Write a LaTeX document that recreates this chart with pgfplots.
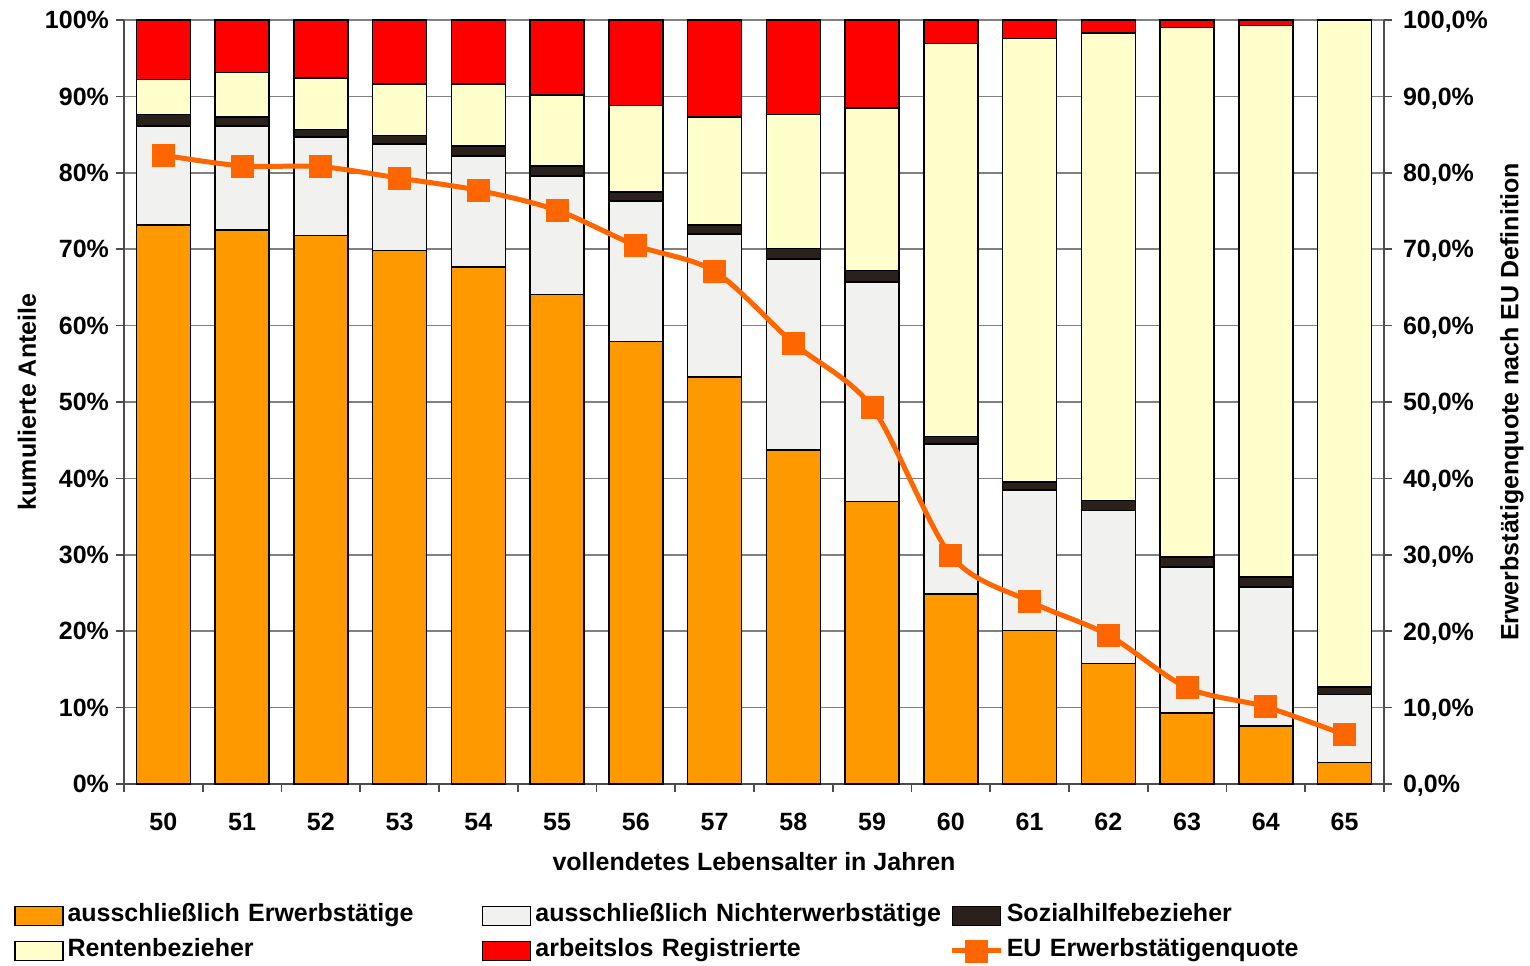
\documentclass[border=0pt]{standalone}
\usepackage{pgfplots}
\pgfplotsset{compat=1.18}
\usepackage{fontspec}
\setmainfont{Liberation Sans}
\definecolor{cOr}{HTML}{FF9900}
\definecolor{cGr}{HTML}{F1F2EF}
\definecolor{cDk}{HTML}{2B211C}
\definecolor{cYe}{HTML}{FFFFCC}
\definecolor{cRd}{HTML}{FF0000}
\definecolor{cLn}{HTML}{FF6600}
\newcommand\myfont{\fontsize{12.5}{15}\selectfont\bfseries}
\pgfplotsset{
  common/.style={width=630pt,height=382pt,scale only axis,
    xmin=49.5,xmax=65.5,ymin=0,ymax=100,
    ytick={0,10,...,100},
    tick align=outside, major tick length=4pt, minor tick length=4pt,
    /pgf/number format/assume math mode=true,
    tick label style={font=\myfont}, label style={font=\myfont},
    axis line style={draw=black!70, line width=0.8pt},
    tick style={draw=black!70, line width=0.8pt}},
  sw/.style={legend image code/.code={\draw[line width=0.75pt,draw=black,fill=#1] (0pt,-4.75pt) rectangle (24pt,4.75pt);}},
  lineleg/.style={legend image code/.code={\draw[mark repeat=2,mark phase=2,##1] plot coordinates {(0pt,0pt)(12pt,0pt)(24pt,0pt)};}}
}
\begin{document}
\begin{tikzpicture}
\begin{axis}[common,
  ybar stacked, bar width=27pt,
  axis y line*=left, axis x line*=bottom,
  xtick={50,51,...,65},
  major x tick style={draw=none},
  minor xtick={49.5,50.5,...,65.5},
  xticklabel style={yshift=-7pt},
  yticklabel={\pgfmathprintnumber{\tick}\%},
  ymajorgrids, grid style={draw=gray, line width=0.8pt},
  every axis plot/.append style={draw=black, line width=0.75pt},
  xlabel={vollendetes Lebensalter in Jahren},
  ylabel={kumulierte Anteile},
  every axis x label/.style={at={(axis description cs:0.5,-0.1021)},anchor=center,font=\myfont},
  every axis y label/.style={at={(axis description cs:-0.077,0.5)},rotate=90,anchor=center,font=\myfont},
]
\addplot[fill=cOr] coordinates {(50,73.2)(51,72.5)(52,71.8)(53,69.8)(54,67.7)(55,64.1)(56,57.9)(57,53.3)(58,43.7)(59,37.0)(60,24.9)(61,20.1)(62,15.8)(63,9.3)(64,7.6)(65,2.8)};
\addplot[fill=cGr] coordinates {(50,12.9)(51,13.6)(52,12.9)(53,14.0)(54,14.5)(55,15.5)(56,18.4)(57,18.7)(58,25.0)(59,28.7)(60,19.6)(61,18.4)(62,20.0)(63,19.1)(64,18.2)(65,8.9)};
\addplot[fill=cDk] coordinates {(50,1.5)(51,1.2)(52,1.0)(53,1.1)(54,1.3)(55,1.3)(56,1.2)(57,1.2)(58,1.4)(59,1.5)(60,1.0)(61,1.0)(62,1.3)(63,1.3)(64,1.3)(65,1.0)};
\addplot[fill=cYe] coordinates {(50,4.6)(51,5.8)(52,6.7)(53,6.7)(54,8.1)(55,9.3)(56,11.3)(57,14.1)(58,17.5)(59,21.3)(60,51.4)(61,58.1)(62,61.2)(63,69.3)(64,72.2)(65,87.3)};
\addplot[fill=cRd] coordinates {(50,7.8)(51,6.9)(52,7.6)(53,8.4)(54,8.4)(55,9.8)(56,11.2)(57,12.7)(58,12.4)(59,11.5)(60,3.1)(61,2.4)(62,1.7)(63,1.0)(64,0.7)(65,0)};
\end{axis}
\begin{axis}[common,
  axis y line*=right, axis x line=none,
  yticklabel={\pgfmathprintnumber[fixed,fixed zerofill,precision=1,use comma]{\tick}\%},
  yticklabel style={xshift=2pt, yshift=-1pt},
  ylabel={Erwerbstätigenquote nach EU Definition},
  every axis y label/.style={at={(axis description cs:1.1016,0.5)},rotate=90,anchor=center,font=\myfont},
  legend columns=3, legend cell align=left,
  legend style={at={(axis description cs:-0.0873,-0.157)}, anchor=north west,
    draw=none, fill=none, inner sep=0pt, outer sep=0pt, font=\myfont,
    row sep=5.5pt, column sep=2pt,
    nodes={text width=205.2pt, align=left, inner sep=0pt, text height=9pt, text depth=3pt}},
]
\addlegendimage{sw=cOr}\addlegendentry{ausschließlich Erwerbstätige}
\addlegendimage{sw=cGr}\addlegendentry{ausschließlich Nichterwerbstätige}
\addlegendimage{sw=cDk}\addlegendentry{Sozialhilfebezieher}
\addlegendimage{sw=cYe}\addlegendentry{Rentenbezieher}
\addlegendimage{sw=cRd}\addlegendentry{arbeitslos Registrierte}
\addplot[color=cLn, line width=2.5pt, smooth, tension=0.5, mark=square*, mark size=5.5pt,
  mark options={solid, fill=cLn, draw=cLn, line width=0.4pt}, lineleg]
  coordinates {(50,82.3)(51,80.9)(52,80.8)(53,79.3)(54,77.7)(55,75.1)(56,70.5)(57,67.1)(58,57.7)(59,49.3)(60,29.9)(61,23.9)(62,19.5)(63,12.6)(64,10.1)(65,6.45)};
\addlegendentry{EU Erwerbstätigenquote}
\end{axis}
\pgfresetboundingbox
\path (-62pt,-90.5pt) rectangle (703pt,392pt);
\end{tikzpicture}
\end{document}
